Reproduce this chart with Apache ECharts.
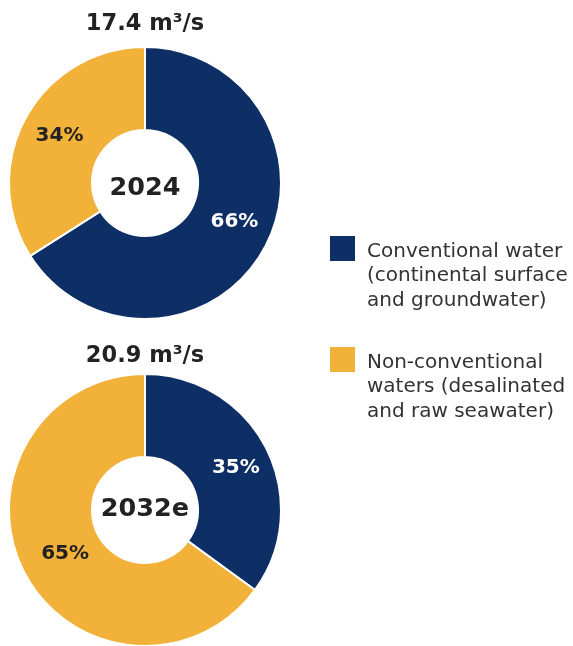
<!DOCTYPE html>
<html><head><meta charset="utf-8">
<script src="https://cdn.jsdelivr.net/npm/echarts@6/dist/echarts.min.js"></script>
<style>html,body{margin:0;padding:0;background:#fff}#c{width:573px;height:646px}</style>
</head><body><div id="c"></div>
<script>
const categories = ['Conventional water\n(continental surface\nand groundwater)', 'Non-conventional\nwaters (desalinated\nand raw seawater)'];
const years = ['2024', '2032e'];
const totals = ['17.4 m³/s', '20.9 m³/s'];
const values2024 = [66, 34];
const values2032 = [35, 65];
const colors = ['#0E2F66', '#F2B139'];
const labelColors = ['#ffffff', '#222222'];
const FONT = '"DejaVu Sans", sans-serif';

const chart = echarts.init(document.getElementById('c'), null, {renderer: 'canvas'});
function pie(vals, cy, offsets) {
  return {
    type: 'pie', center: [145, cy], radius: [53, 136], startAngle: 90, clockwise: true,
    avoidLabelOverlap: false, silent: true,
    itemStyle: {borderColor: '#fff', borderWidth: 2},
    label: {show: true, position: 'inside', formatter: p => p.value + '%',
      fontFamily: FONT, fontWeight: 'bold', fontSize: 20},
    labelLine: {show: false},
    data: vals.map((v, i) => ({name: categories[i], value: v,
      itemStyle: {color: colors[i]}, label: {color: labelColors[i], offset: offsets[i]}}))
  };
}
function centerText(text, y, size) {
  return {type: 'text', x: 145, y: y, style: {text: text, fontFamily: FONT, fontWeight: 'bold',
    fontSize: size, fill: '#222', align: 'center', verticalAlign: 'middle'}};
}
const option = {
  animation: false,
  graphic: [
    centerText(totals[0], 24.5, 22.5),
    centerText(totals[1], 356.5, 22.5),
    centerText(years[0], 188, 25.5),
    centerText(years[1], 509, 25.5)
  ].concat(categories.map((c, i) => ({
    type: 'group', left: 330, top: 236 + i * 111,
    children: [
      {type: 'rect', shape: {x: 0, y: 0, width: 25, height: 25}, style: {fill: colors[i]}},
      {type: 'text', x: 37, y: 3.5, style: {text: c, fontFamily: FONT, fontSize: 20,
        lineHeight: 24.5, fill: '#333'}}
    ]
  }))),
  series: [pie(values2024, 183, [[4, -8], [0, 0]]), pie(values2032, 510, [[4, 2], [7, 0]])]
};
chart.setOption(option);
</script></body></html>
